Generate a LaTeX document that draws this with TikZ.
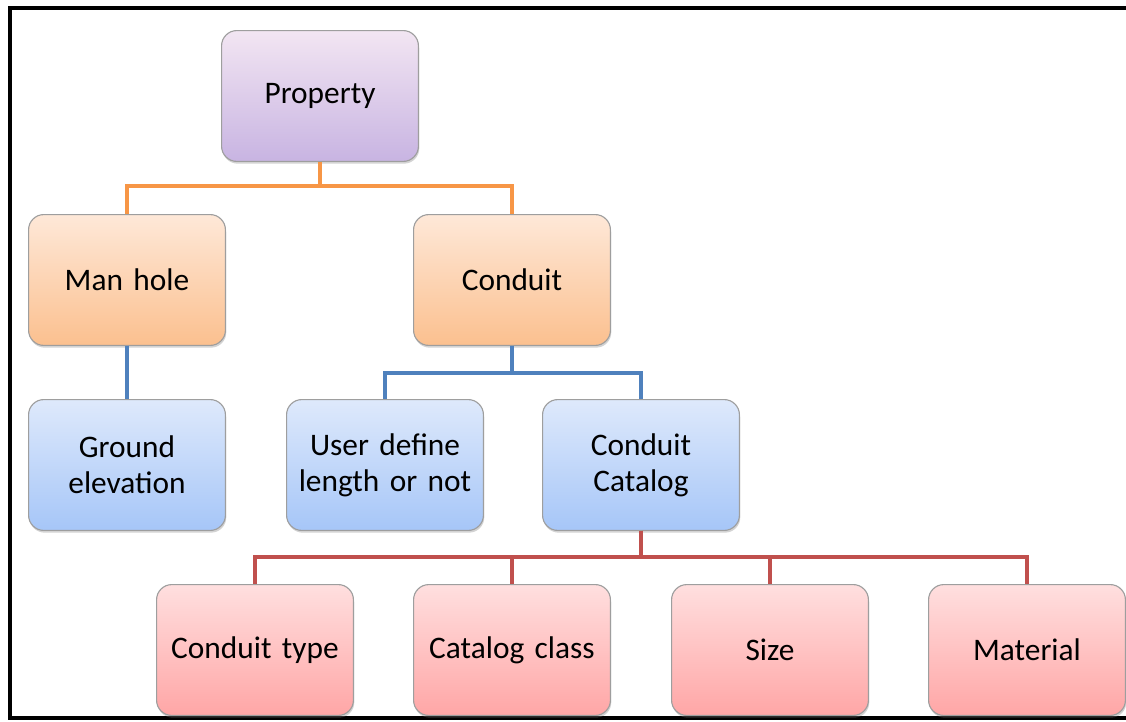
\documentclass[tikz,border=0pt]{standalone}
\usepackage{fontspec}
\setmainfont{Carlito}
\usetikzlibrary{shadows}
\definecolor{lnorange}{HTML}{F79646}
\definecolor{lnblue}{HTML}{4F81BD}
\definecolor{lnred}{HTML}{C0504D}

\begin{document}
\begin{tikzpicture}[x=0.025cm, y=-0.025cm,
  box/.style = {draw=black!38, line width=0.8pt, rounded corners=0.38cm,
    minimum width=4.92cm, minimum height=3.27cm, inner sep=0pt,
    text width=4.6cm, align=center,
    font=\fontsize{22.3}{25.5}\selectfont,
    drop shadow={shadow xshift=0.6pt, shadow yshift=-1.6pt, opacity=0.35}},
  purplebox/.style = {box, top color=violet!10!white, bottom color={rgb,255:red,200;green,180;blue,226}},
  orangebox/.style = {box, top color={rgb,255:red,254;green,232;blue,216}, bottom color={rgb,255:red,251;green,192;blue,143}},
  bluebox/.style = {box, top color={rgb,255:red,222;green,233;blue,251}, bottom color={rgb,255:red,166;green,198;blue,248}},
  redbox/.style = {box, top color={rgb,255:red,255;green,223;blue,223}, bottom color={rgb,255:red,255;green,166;blue,166}},
  link/.style = {line width=2.8pt}]
\useasboundingbox (0,0) rectangle (1126,722);
% frame
\draw[line width=3pt] (1130,8) -- (10,8) -- (10,718) -- (1130,718);

\node[purplebox] (prop) at (320,96) {Property};
\node[orangebox] (man) at (127,280) {Man hole};
\node[orangebox] (cond) at (512,280) {Conduit};
\node[bluebox] (ground) at (127,465) {Ground\\elevation};
\node[bluebox] (user) at (385,465) {User define\\length or not};
\node[bluebox] (catalog) at (641,465) {Conduit\\Catalog};
\node[redbox] (type) at (255,650) {Conduit type};
\node[redbox] (class) at (512,650) {Catalog class};
\node[redbox] (size) at (770,650) {Size};
\node[redbox] (mat) at (1027,650) {Material};

% connectors
\draw[link, lnorange] (prop.south) -- ++(0,24) -| (man.north);
\draw[link, lnorange] (prop.south) -- ++(0,24) -| (cond.north);
\draw[link, lnblue] (man.south) -- (ground.north);
\draw[link, lnblue] (cond.south) -- ++(0,27) -| (user.north);
\draw[link, lnblue] (cond.south) -- ++(0,27) -| (catalog.north);
\foreach \leaf in {type, class, size, mat}
  \draw[link, lnred] (catalog.south) -- ++(0,26) -| (\leaf.north);
\end{tikzpicture}
\end{document}
